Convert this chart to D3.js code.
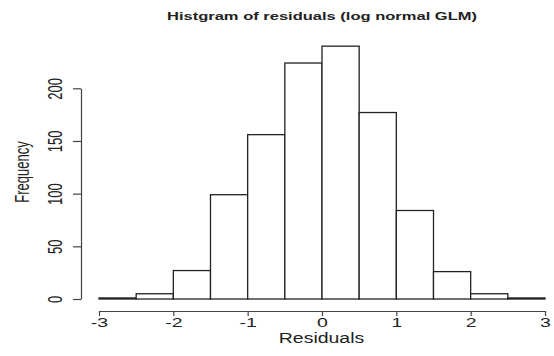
<!DOCTYPE html>
<html>
<head>
<meta charset="utf-8">
<script src="https://cdn.jsdelivr.net/npm/d3@7"></script>
<style>
  body { margin: 0; background: #fff; }
  text { font-family: "Liberation Sans", Arial, sans-serif; fill: #222; }
</style>
</head>
<body>
<div id="hist"></div>
<script>
// histogram bins (breaks) and counts
var breaks = [-3, -2.5, -2, -1.5, -1, -0.5, 0, 0.5, 1, 1.5, 2, 2.5, 3];
var counts = [1, 5, 27, 99, 156, 224, 240, 177, 84, 26, 5, 1];
var xTicks = [-3, -2, -1, 0, 1, 2, 3];
var yTicks = [0, 50, 100, 150, 200];

var width = 554;
var height = 356;

var bins = counts.map(function(c, i) {
    return { x0: breaks[i], x1: breaks[i + 1], length: c };
});

var canvas = d3.select("#hist")
    .append("svg")
    .attr("width", width)
    .attr("height", height);

var x = d3.scaleLinear()
    .domain([-3, 3])
    .range([99, 545]);

var y = d3.scaleLinear()
    .domain([0, 200])
    .range([299, 88.3]);

// bars
canvas.append("g")
    .selectAll("rect")
    .data(bins)
    .enter().append("rect")
        .attr("x", d => x(d.x0))
        .attr("width", d => x(d.x1) - x(d.x0))
        .attr("y", d => y(d.length))
        .attr("height", d => y(0) - y(d.length))
        .attr("fill", "#fff")
        .attr("stroke", "#222")
        .attr("stroke-width", 1.3);

var xAxis = g => g
    .attr("transform", `translate(0, 311)`)
    .call(d3.axisBottom(x).tickValues(xTicks).tickSize(5).tickSizeOuter(0).tickFormat(d => String(d)))
    .call(g => g.selectAll("path, line").attr("stroke", "#444").attr("stroke-width", 1.2))
    .call(g => g.selectAll("text")
        .attr("y", 0).attr("dy", 0)
        .attr("font-size", 13)
        .attr("fill", "#222")
        .attr("transform", "translate(0,16) scale(1.5,1)"));

var yAxis = g => g
    .attr("transform", `translate(81, 0)`)
    .call(d3.axisLeft(y).tickValues(yTicks).tickSize(8).tickSizeOuter(0))
    .call(g => g.selectAll("path, line").attr("stroke", "#444").attr("stroke-width", 1.2))
    .call(g => g.selectAll("text")
        .attr("x", 0).attr("dy", 0)
        .attr("font-size", 13)
        .attr("fill", "#222")
        .attr("text-anchor", "middle")
        .attr("transform", "translate(-19,0) scale(1.6,1) rotate(-90)"));

canvas.append("g").call(xAxis);
canvas.append("g").call(yAxis);

// title
canvas.append("text")
    .attr("x", 322)
    .attr("y", 19.5)
    .attr("text-anchor", "middle")
    .attr("font-size", 11)
    .attr("font-weight", "bold")
    .attr("textLength", 310)
    .attr("lengthAdjust", "spacingAndGlyphs")
    .text("Histgram of residuals (log normal GLM)");

// axis labels
canvas.append("text")
    .attr("transform", "translate(321.5, 343) scale(1.3,1)")
    .attr("text-anchor", "middle")
    .attr("font-size", 15)
    .text("Residuals");

canvas.append("text")
    .attr("transform", "translate(29, 172) scale(1.5,1) rotate(-90)")
    .attr("text-anchor", "middle")
    .attr("font-size", 13)
    .text("Frequency");
</script>
</body>
</html>
